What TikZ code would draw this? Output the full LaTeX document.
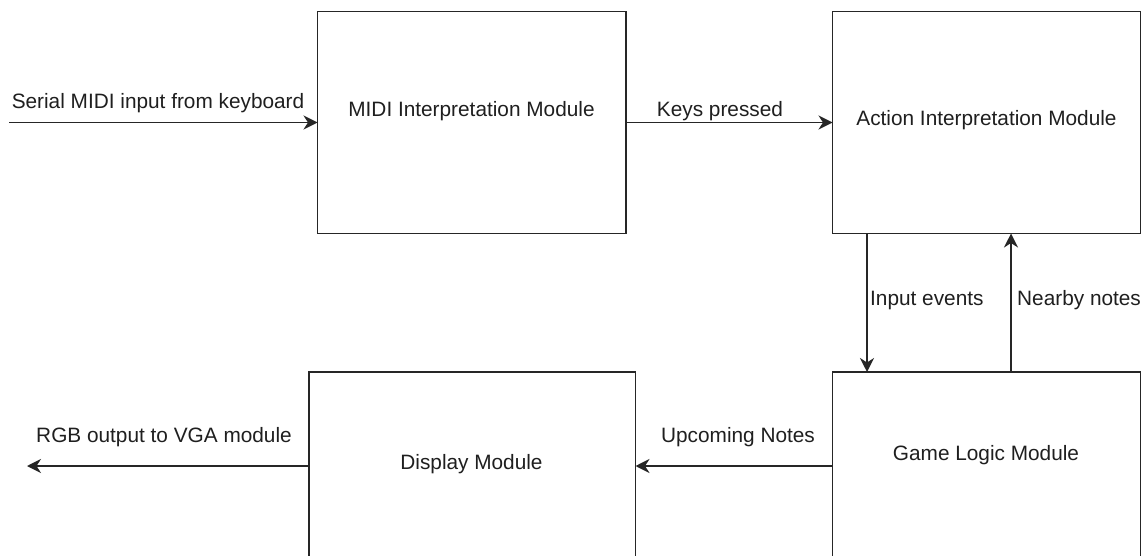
\documentclass[tikz,border=0pt]{standalone}
\usepackage{fontspec}
\setmainfont{Liberation Sans}
\usetikzlibrary{arrows.meta}
\begin{document}
\begin{tikzpicture}[x=1pt,y=-1pt,
  modbox/.style={draw=black!85, line width=1.8pt, rectangle, inner sep=0pt, outer sep=0pt},
  arr/.style={draw=black!85, line width=1.8pt, -{Stealth[length=14pt,width=14pt,inset=4.5pt]}},
  txt/.style={anchor=base, inner sep=0pt, text=black!88, font=\fontsize{20.8}{25}\selectfont}]
\useasboundingbox (0,0) rectangle (1143,556);
\clip (0,0) rectangle (1143,556);
\fill[white] (0,0) rectangle (1143,556);
% boxes
\node[modbox, minimum width=308.5pt, minimum height=222pt] (midi) at (471.75,122.5) {};
\node[modbox, minimum width=308pt, minimum height=222pt] (action) at (986.5,122.5) {};
\node[modbox, minimum width=326.5pt, minimum height=268pt] (display) at (472.25,506) {};
\node[modbox, minimum width=308pt, minimum height=268pt] (game) at (986.5,506) {};
% box texts
\node[txt] (tmidi) at (471.5,116.7) {MIDI Interpretation Module};
\node[txt] (taction) at (986.5,125.7) {Action Interpretation Module};
\node[txt] (tdisplay) at (471.5,469) {Display Module};
\node[txt] (tgame) at (986,460) {Game Logic Module};
% connectors
\coordinate (sin) at (9,122.5);
\coordinate (rgbout) at (27,466);
\draw[arr] (sin) -- (midi.west);
\draw[arr] (midi.east) -- (action.west);
\draw[arr] ([xshift=34.5pt]action.south west) -- ([xshift=34.5pt]game.north west);
\draw[arr] ([xshift=178.5pt]game.north west) -- ([xshift=178.5pt]action.south west);
\draw[arr] ([yshift=-94pt]game.north west) -- ([yshift=-94pt]display.north east);
\draw[arr] ([yshift=-94pt]display.north west) -- (rgbout);
% connector labels
\node[txt] (lserial) at (158,108.3) {Serial MIDI input from keyboard};
\node[txt] (lkeys) at (720,117) {Keys pressed};
\node[txt, anchor=base west] (linput) at (870,305.7) {Input events};
\node[txt, anchor=base west] (lnearby) at (1017,305.7) {Nearby notes};
\node[txt] (lupcoming) at (738,442.7) {Upcoming Notes};
\node[txt] (lrgb) at (164,442.7) {RGB output to VGA module};
\end{tikzpicture}
\end{document}
